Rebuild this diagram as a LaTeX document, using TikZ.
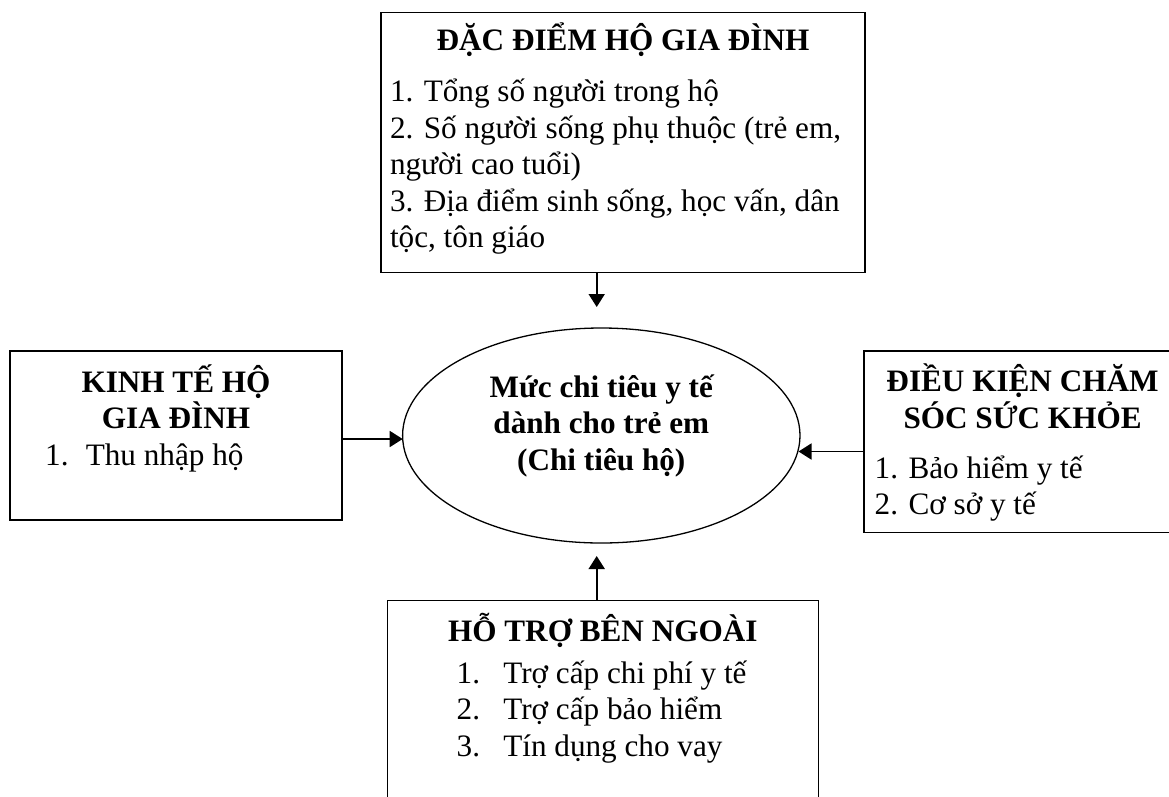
\documentclass[tikz,border=0pt]{standalone}
\usepackage{fontspec}
\setmainfont{Liberation Serif}
\usepackage{tikz}
\usetikzlibrary{arrows.meta,positioning,shapes.geometric}
\newcommand{\bodyfont}{\fontsize{31.2}{36.5}\selectfont\lineskiplimit=-40pt}
\newcommand{\listno}[3]{\hspace*{#1}\makebox[#2][l]{#3}}
\tikzset{
    factorbox/.style={draw, line width=1.5pt, inner ysep=0pt, align=flush left, font=\bodyfont},
    outcome/.style={draw, ellipse, line width=1.3pt, minimum width=397.4pt, minimum height=215pt, inner sep=0pt, align=center, font=\bodyfont\bfseries, text height=100pt, text depth=31pt},
    flowarrow/.style={-{Triangle[length=13pt, width=16pt]}, line width=1.8pt}
}

\begin{document}
\begin{tikzpicture}[x=1pt, y=1pt]
    \useasboundingbox (0,0) rectangle (1169,-796);

    \node[outcome] (ell) at (601.3,-435.5) {Mức chi tiêu y tế\\dành cho trẻ em\\(Chi tiêu hộ)};

    \node[factorbox, above=54pt of ell, xshift=21.7pt, text width=466pt, inner xsep=9pt, text height=38.3pt, text depth=222pt] (famchar)
        {{\bfseries\centering ĐẶC ĐIỂM HỘ GIA ĐÌNH\par}\vspace{14.5pt}%
         1. Tổng số người trong hộ\\
         2. Số người sống phụ thuộc (trẻ em,\\
         người cao tuổi)\\
         3. Địa điểm sinh sống, học vấn, dân\\
         tộc, tôn giáo};
    \node[factorbox, left=59.4pt of ell, text width=313.6pt, inner xsep=9pt, text height=41pt, text depth=128pt] (econ)
        {{\bfseries\centering KINH TẾ HỘ\\GIA ĐÌNH\par}%
         \listno{26pt}{40.6pt}{1.}Thu nhập hộ};
    \node[factorbox, right=62.7pt of ell, yshift=-6.35pt, text width=295.7pt, inner xsep=10.6pt, text height=40.7pt, text depth=141pt] (care)
        {{\bfseries\centering ĐIỀU KIỆN CHĂM\\SÓC SỨC KHỎE\par}\vspace{13.3pt}%
         1. Bảo hiểm y tế\\
         2. Cơ sở y tế};
    \node[factorbox, below=56.3pt of ell, xshift=1.5pt, text width=413pt, inner xsep=9pt, text height=40.7pt, text depth=180pt] (support)
        {{\bfseries\centering HỖ TRỢ BÊN NGOÀI\par}\vspace{5.2pt}%
         \listno{60.4pt}{46.6pt}{1.}Trợ cấp chi phí y tế\\
         \listno{60.4pt}{46.6pt}{2.}Trợ cấp bảo hiểm\\
         \listno{60.4pt}{46.6pt}{3.}Tín dụng cho vay};

    \coordinate (toptip) at (596.7,-307);
    \coordinate (bottip) at (596.7,-556);
    \coordinate (lefttip) at (402.7,-439);
    \coordinate (righttip) at (798.5,-451.5);

    \draw[flowarrow] (famchar.south -| toptip) -- (toptip);
    \draw[flowarrow] (support.north -| bottip) -- (bottip);
    \draw[flowarrow] (econ.east |- lefttip) -- (lefttip);
    \draw[flowarrow] (care.west |- righttip) -- (righttip);
\end{tikzpicture}
\end{document}
